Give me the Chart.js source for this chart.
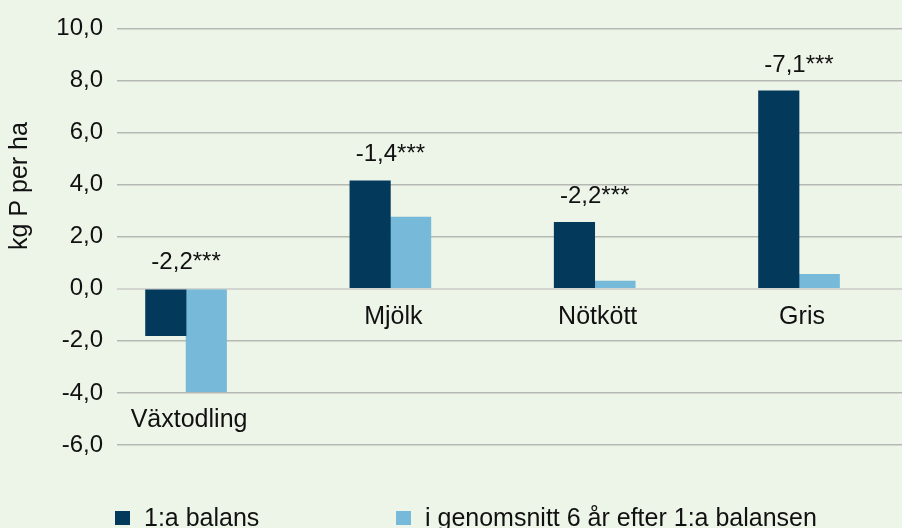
<!DOCTYPE html>
<html>
<head>
<meta charset="utf-8">
<script src="https://cdn.jsdelivr.net/npm/chart.js@4.4.1/dist/chart.umd.min.js"></script>
<style>
  html, body { margin: 0; padding: 0; background: #edf5e8; }
  #wrap { width: 902px; height: 528px; position: relative; }
</style>
</head>
<body>
<div id="wrap"><canvas id="chart"></canvas></div>
<script>
const categories = ["Växtodling", "Mjölk", "Nötkött", "Gris"];
const firstBalance = [-1.8, 4.15, 2.55, 7.6];
const sixYearAverage = [-3.95, 2.75, 0.3, 0.55];
const changeLabels = ["-2,2***", "-1,4***", "-2,2***", "-7,1***"];
const seriesNames = ["1:a balans", "i genomsnitt 6 år efter 1:a balansen"];
const yMin = -6, yMax = 10, yStep = 2;

const FONT = "'Liberation Sans', Arial, Helvetica, sans-serif";
const DARK = "#033a5c";
const LIGHT = "#77b9d8";

// category names, change labels, y title and legend drawn by hand
const annotations = {
    id: 'annotations',
    afterDatasetsDraw(chart) {
        const {ctx, scales: {x, y}} = chart;
        ctx.save();
        ctx.fillStyle = '#111';
        ctx.textAlign = 'center';
        ctx.textBaseline = 'middle';
        categories.forEach((name, i) => {
            const hi = Math.max(0, firstBalance[i], sixYearAverage[i]);
            const lo = Math.min(0, firstBalance[i], sixYearAverage[i]);
            const cx = x.getPixelForValue(i);
            ctx.font = `24px ${FONT}`;
            ctx.fillText(changeLabels[i], cx, y.getPixelForValue(hi) - 26);
            ctx.font = `25px ${FONT}`;
            ctx.fillText(name, cx + 3, y.getPixelForValue(lo) + 28);
        });

        ctx.save();
        ctx.translate(20, 186);
        ctx.rotate(-Math.PI / 2);
        ctx.font = `25px ${FONT}`;
        ctx.fillText('kg P per ha', 0, 0);
        ctx.restore();

        const legendX = [115, 396];
        ctx.textAlign = 'left';
        ctx.font = `25px ${FONT}`;
        chart.data.datasets.forEach((ds, i) => {
            ctx.fillStyle = ds.backgroundColor;
            ctx.fillRect(legendX[i], 511, 15, 14);
            ctx.fillStyle = '#111';
            ctx.fillText(ds.label, legendX[i] + 29, 519);
        });
        ctx.restore();
    }
};

const data = {
    datasets: [
        {
            label: seriesNames[0],
            data: firstBalance.map((v, i) => ({x: i, y: v})),
            backgroundColor: DARK,
        },
        {
            label: seriesNames[1],
            data: sixYearAverage.map((v, i) => ({x: i, y: v})),
            backgroundColor: LIGHT,
        },
    ],
};

const options = {
    responsive: true,
    maintainAspectRatio: false,
    animation: false,
    barThickness: 40.5,
    layout: {padding: {top: 27, bottom: 83, left: 0, right: 0}},
    plugins: {
        legend: {display: false},
        tooltip: {enabled: false},
    },
    scales: {
        x: {
            type: 'linear',
            display: false,
            offset: false,
            min: -0.338,
            max: 3.504,
        },
        y: {
            min: yMin,
            max: yMax,
            border: {display: false},
            grid: {
                drawTicks: false,
                color: c => c.tick && c.tick.value === 0 ? '#d3d5d0' : '#b6b8b3',
                lineWidth: c => c.tick && c.tick.value === 0 ? 2 : 1.5,
            },
            ticks: {
                stepSize: yStep,
                padding: 14,
                color: '#111',
                font: {family: FONT, size: 24},
                callback: v => v.toFixed(1).replace('.', ','),
            },
            afterFit: scale => { scale.width = 117; },
        },
    },
};

new Chart(document.getElementById('chart').getContext('2d'), {
    type: 'bar',
    data: data,
    options: options,
    plugins: [annotations],
});
</script>
</body>
</html>
